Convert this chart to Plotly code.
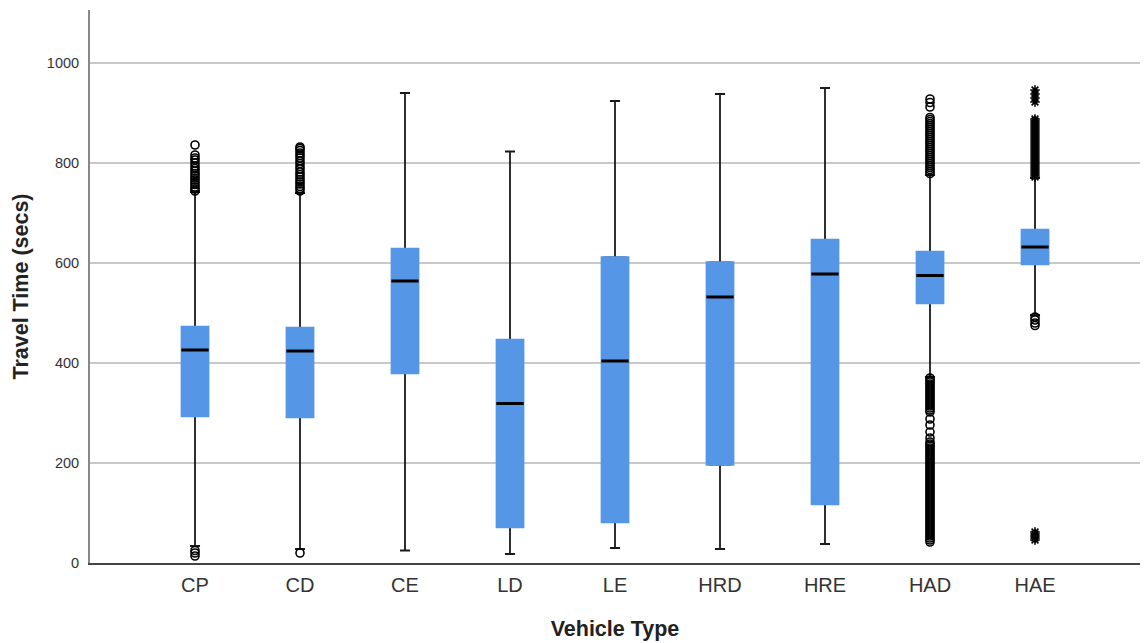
import plotly.graph_objects as go

categories = ["CP", "CD", "CE", "LD", "LE", "HRD", "HRE", "HAD", "HAE"]
q1 = [294, 292, 380, 72, 82, 197, 118, 520, 598]
median = [426, 424, 564, 319, 404, 532, 578, 575, 632]
q3 = [472, 470, 628, 446, 611, 601, 646, 622, 666]
lower_whisker = [34, 28, 25, 18, 30, 28, 38, 372, 496]
upper_whisker = [742, 740, 940, 823, 924, 938, 950, 776, 770]

# outliers (circles)
out_CP = [744, 748, 752, 757, 761, 766, 770, 775, 779, 784, 789, 794, 800, 806, 810, 816, 836, 14, 20, 25]
out_CD = [744, 749, 753, 758, 762, 767, 772, 777, 782, 788, 793, 799, 804, 810, 815, 820, 825, 829, 832, 20]
out_HAD = [779, 783, 787, 791, 795, 799, 803, 807, 811, 815, 819, 823, 827, 831, 835, 839, 843, 847, 851,
           855, 859, 863, 867, 871, 875, 879, 883, 887, 891, 912, 921, 928,
           370, 366, 362, 358, 354, 350, 346, 342, 338, 334, 330, 326, 322, 318, 314, 310, 306, 302,
           288, 276, 262, 250,
           242, 238, 234, 230, 226, 222, 218, 214, 210, 206, 202, 198, 194, 190, 186, 182, 178, 174, 170,
           166, 162, 158, 154, 150, 146, 142, 138, 134, 130, 126, 122, 118, 114, 110, 106, 102, 98, 94,
           90, 86, 82, 78, 74, 70, 66, 62, 58, 54, 50, 46, 42]
out_HAE_c = [492, 486, 480, 475]
# extreme outliers (stars)
out_HAE_s = [772, 776, 780, 784, 788, 792, 796, 800, 804, 808, 812, 816, 820, 824, 828, 832, 836, 840,
             844, 848, 852, 856, 860, 864, 868, 872, 876, 880, 884, 888, 922, 930, 938, 946,
             46, 50, 54, 58, 62]

BLUE = "#5596E6"
BOXW = 0.25

fig = go.Figure()

# whiskers (black); its box is hidden under the blue body
fig.add_trace(go.Box(
    x=categories, q1=q1, median=median, q3=q3,
    lowerfence=lower_whisker, upperfence=upper_whisker,
    width=0.2, whiskerwidth=0.48, fillcolor=BLUE,
    line=dict(color="#1a1a1a", width=1.8), boxpoints=False, hoverinfo="skip",
    showlegend=False,
))
# blue box body
fig.add_trace(go.Box(
    x=categories, q1=q1, median=q1, q3=q3,
    lowerfence=q1, upperfence=q3,
    width=BOXW, whiskerwidth=0, fillcolor=BLUE,
    line=dict(color=BLUE, width=2.5), boxpoints=False, hoverinfo="skip",
    showlegend=False,
))
# median lines
fig.add_trace(go.Box(
    x=categories, q1=median, median=median, q3=median,
    lowerfence=median, upperfence=median,
    width=BOXW + 0.01, whiskerwidth=0, fillcolor="black",
    line=dict(color="black", width=3), boxpoints=False, hoverinfo="skip",
    showlegend=False,
))

def add_points(cat, vals, symbol):
    fig.add_trace(go.Scatter(
        x=[cat] * len(vals), y=vals, mode="markers",
        marker=dict(symbol=symbol, size=8, color="black",
                    line=dict(color="black", width=1.6)),
        showlegend=False, hoverinfo="y",
    ))

add_points("CP", out_CP, "circle-open")
add_points("CD", out_CD, "circle-open")
add_points("HAD", out_HAD, "circle-open")
add_points("HAE", out_HAE_c, "circle-open")
add_points("HAE", out_HAE_s, "asterisk-open")

fig.update_layout(
    width=1144, height=643,
    margin=dict(l=90, r=4, t=10, b=80),
    paper_bgcolor="white", plot_bgcolor="white",
    boxmode="overlay",
    font=dict(family="Arial, Liberation Sans, sans-serif", color="#222"),
    xaxis=dict(
        type="category", categoryorder="array", categoryarray=categories,
        range=[-1, 9], showgrid=False, zeroline=False,
        showline=True, linecolor="#444", linewidth=1.5,
        ticks="", tickfont=dict(size=20, color="#333"), ticklabelstandoff=3,
        title=dict(text="<b>Vehicle Type</b>", font=dict(size=21.5, color="#222"), standoff=26),
    ),
    yaxis=dict(
        range=[0, 1106], tickvals=[0, 200, 400, 600, 800, 1000],
        showgrid=True, gridcolor="#c8c8c8", gridwidth=1.5,
        zeroline=False, showline=True, linecolor="#888", linewidth=2,
        ticks="", tickfont=dict(size=14.5, color="#333"), ticklabelstandoff=6,
        title=dict(text="<b>Travel Time (secs)</b>", font=dict(size=21.5, color="#222"), standoff=12),
    ),
)

fig.write_html("out.html")
